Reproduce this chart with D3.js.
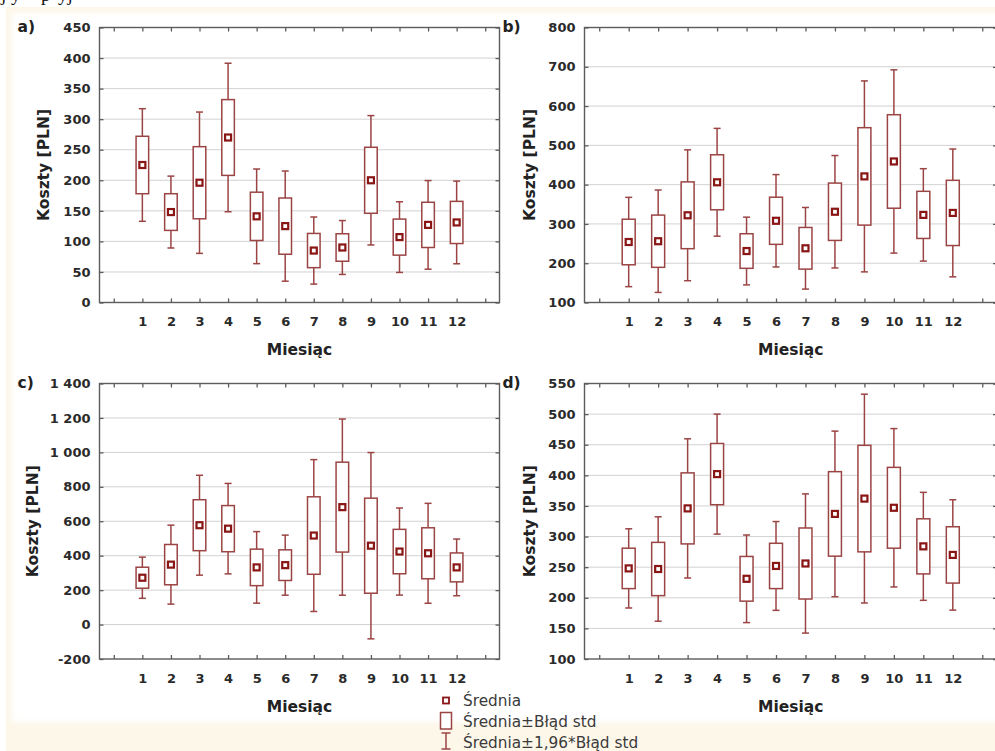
<!DOCTYPE html>
<html>
<head>
<meta charset="utf-8">
<script src="https://cdn.jsdelivr.net/npm/d3@7"></script>
<style>
  html, body { margin: 0; padding: 0; background: #ffffff; }
  svg { display: block; }
</style>
</head>
<body>
<svg id="chart" width="995" height="751"></svg>
<script>
// Months on the x axis
const months = ["1", "2", "3", "4", "5", "6", "7", "8", "9", "10", "11", "12"];

// a) monthly mean cost and its standard error
const meanA = [225, 148, 196, 270, 141, 125, 85, 90, 200, 107, 127, 131];
const seA   = [47, 30, 59, 62, 39.5, 46, 28, 22.5, 54, 29.5, 37, 34.5];

// b)
const meanB = [254, 256, 322, 406, 231, 308, 238, 331, 421, 459, 323, 328];
const seB   = [58, 66.5, 85, 70, 44, 60, 53, 73, 124, 119, 60, 83];

// c)
const meanC = [272, 348, 577, 557, 332, 345, 517, 682, 458, 424, 414, 332];
const seC   = [61, 117, 148, 134, 106, 89, 225, 261, 276, 129, 148, 84];

// d)
const meanD = [248, 247, 346, 402, 231, 252, 256, 337, 362, 347, 284, 270];
const seD   = [33, 43.5, 58, 50, 36.5, 37, 58, 69, 87, 66, 45, 46];

// y tick values per panel
const ticksA = [0, 50, 100, 150, 200, 250, 300, 350, 400, 450];
const ticksB = [100, 200, 300, 400, 500, 600, 700, 800];
const ticksC = [-200, 0, 200, 400, 600, 800, 1000, 1200, 1400];
const ticksD = [100, 150, 200, 250, 300, 350, 400, 450, 500, 550];

const panelLetters = ["a)", "b)", "c)", "d)"];
const yTitle = "Koszty [PLN]";
const xTitle = "Miesiąc";
const legendLabels = ["Średnia", "Średnia±Błąd std", "Średnia±1,96*Błąd std"];
const whiskerFactor = 1.96;

// Polish number format: space as thousands separator, hyphen minus
const plFormat = d3.formatLocale({
  decimal: ",", thousands: " ", grouping: [3], currency: ["", " zł"], minus: "-"
}).format(",d");

const panels = [
  { letter: panelLetters[0], mean: meanA, se: seA, ticks: ticksA, domain: [0, 450],
    left: 99.5, right: 499.5, top: 27.5, bottom: 302.5, titleX: 43.5 },
  { letter: panelLetters[1], mean: meanB, se: seB, ticks: ticksB, domain: [100, 800],
    left: 584.5, right: 997, top: 27.5, bottom: 302.5, titleX: 529 },
  { letter: panelLetters[2], mean: meanC, se: seC, ticks: ticksC, domain: [-200, 1400],
    left: 99.5, right: 499.5, top: 383.5, bottom: 659, titleX: 32.5 },
  { letter: panelLetters[3], mean: meanD, se: seD, ticks: ticksD, domain: [100, 550],
    left: 584.5, right: 997, top: 383.5, bottom: 659, titleX: 529 }
];

const BOLD = "'DejaVu Sans', Verdana, sans-serif";
const boxColor = "#9b4444";
const meanColor = "#8a1515";
const frameColor = "#5c5c5c";
const labelColor = "#2a2a2a";

const svg = d3.select("#chart");
const defs = svg.append("defs");
defs.append("filter").attr("id", "soft")
  .attr("x", "-5%").attr("y", "-5%").attr("width", "110%").attr("height", "110%")
  .append("feGaussianBlur").attr("stdDeviation", 2.5);
defs.append("clipPath").attr("id", "topStrip")
  .append("rect").attr("x", 0).attr("y", 0).attr("width", 995).attr("height", 7);

// page: cream frame with a white sheet inside
svg.append("rect").attr("x", 6).attr("y", 7).attr("width", 989).attr("height", 744)
  .attr("fill", "#fdf7ea");
svg.append("rect").attr("x", 12).attr("y", 13).attr("width", 1000).attr("height", 709)
  .attr("fill", "#ffffff").attr("filter", "url(#soft)");

// tail of the preceding text line
svg.append("g").attr("clip-path", "url(#topStrip)")
  .append("text")
  .attr("x", "1 11 29 41 58").attr("y", 1)
  .attr("font-family", "'Liberation Serif', 'Times New Roman', serif")
  .attr("font-size", 19).attr("fill", "#111")
  .text("jy pyj");

function drawPanel(p) {
  const x = d3.scaleLinear().domain([-0.5, 13.5]).range([p.left, p.right]);
  const y = d3.scaleLinear().domain(p.domain).range([p.bottom, p.top]);
  const step = x(1) - x(0);
  const g = svg.append("g");

  // horizontal gridlines
  g.append("g").selectAll("line")
    .data(p.ticks.filter(t => t > p.domain[0] && t < p.domain[1]))
    .join("line")
    .attr("x1", p.left).attr("x2", p.right)
    .attr("y1", d => y(d)).attr("y2", d => y(d))
    .attr("stroke", "#d2d2d2").attr("stroke-width", 1);

  // frame ticks on all four sides, pointing inward
  const posTicks = d3.range(0, 14);
  const axes = [
    g.append("g").attr("transform", `translate(${p.left},0)`)
      .call(d3.axisLeft(y).tickValues(p.ticks).tickSize(-4).tickPadding(9).tickFormat(plFormat)),
    g.append("g").attr("transform", `translate(${p.right},0)`)
      .call(d3.axisRight(y).tickValues(p.ticks).tickSize(-4).tickFormat("")),
    g.append("g").attr("transform", `translate(0,${p.top})`)
      .call(d3.axisTop(x).tickValues(posTicks).tickSize(-4).tickFormat("")),
    g.append("g").attr("transform", `translate(0,${p.bottom})`)
      .call(d3.axisBottom(x).tickValues(posTicks).tickSize(-4).tickFormat("")),
    g.append("g").attr("transform", `translate(0,${p.bottom})`)
      .call(d3.axisBottom(x).tickValues(months.map(Number)).tickSize(0).tickPadding(14.5)
        .tickFormat((d, i) => months[i]))
  ];
  axes.forEach(a => {
    a.select(".domain").remove();
    a.selectAll(".tick line").attr("stroke", frameColor).attr("stroke-width", 1.3);
    a.selectAll(".tick text")
      .attr("font-family", BOLD).attr("font-weight", "bold")
      .attr("font-size", 13).attr("fill", labelColor);
  });

  // plot frame
  g.append("rect")
    .attr("x", p.left).attr("y", p.top)
    .attr("width", p.right - p.left).attr("height", p.bottom - p.top)
    .attr("fill", "none").attr("stroke", frameColor).attr("stroke-width", 1.4);

  // mean ± SE boxes and mean ± 1.96·SE whiskers
  const items = months.map((m, i) => ({
    pos: i + 1, mean: p.mean[i], se: p.se[i]
  }));
  const boxW = step * 0.44;
  const capW = 7;
  const bx = g.append("g").selectAll("g").data(items).join("g");

  bx.append("line")
    .attr("x1", d => x(d.pos)).attr("x2", d => x(d.pos))
    .attr("y1", d => y(d.mean + whiskerFactor * d.se)).attr("y2", d => y(d.mean + d.se))
    .attr("stroke", boxColor).attr("stroke-width", 1.5);
  bx.append("line")
    .attr("x1", d => x(d.pos)).attr("x2", d => x(d.pos))
    .attr("y1", d => y(d.mean - d.se)).attr("y2", d => y(d.mean - whiskerFactor * d.se))
    .attr("stroke", boxColor).attr("stroke-width", 1.5);
  bx.append("line")
    .attr("x1", d => x(d.pos) - capW / 2).attr("x2", d => x(d.pos) + capW / 2)
    .attr("y1", d => y(d.mean + whiskerFactor * d.se)).attr("y2", d => y(d.mean + whiskerFactor * d.se))
    .attr("stroke", boxColor).attr("stroke-width", 1.5);
  bx.append("line")
    .attr("x1", d => x(d.pos) - capW / 2).attr("x2", d => x(d.pos) + capW / 2)
    .attr("y1", d => y(d.mean - whiskerFactor * d.se)).attr("y2", d => y(d.mean - whiskerFactor * d.se))
    .attr("stroke", boxColor).attr("stroke-width", 1.5);
  bx.append("rect")
    .attr("x", d => x(d.pos) - boxW / 2).attr("width", boxW)
    .attr("y", d => y(d.mean + d.se)).attr("height", d => y(d.mean - d.se) - y(d.mean + d.se))
    .attr("fill", "#ffffff").attr("stroke", boxColor).attr("stroke-width", 1.5);
  bx.append("rect")
    .attr("x", d => x(d.pos) - 3).attr("y", d => y(d.mean) - 3)
    .attr("width", 6).attr("height", 6)
    .attr("fill", "#ffffff").attr("stroke", meanColor).attr("stroke-width", 2.2);

  // titles
  g.append("text")
    .attr("transform", `translate(${p.titleX},${(p.top + p.bottom) / 2}) rotate(-90)`)
    .attr("text-anchor", "middle").attr("dy", "0.36em")
    .attr("font-family", BOLD).attr("font-weight", "bold").attr("font-size", 15.5)
    .attr("fill", "#222").text(yTitle);
  g.append("text")
    .attr("x", (p.left + Math.min(p.right, 997)) / 2).attr("y", p.bottom + 52.5)
    .attr("text-anchor", "middle")
    .attr("font-family", BOLD).attr("font-weight", "bold").attr("font-size", 15.5)
    .attr("fill", "#222").text(xTitle);
  g.append("text")
    .attr("x", p.left - 82).attr("y", p.top + 4)
    .attr("font-family", BOLD).attr("font-weight", "bold").attr("font-size", 15.5)
    .attr("fill", "#222").text(p.letter);
}

panels.forEach(drawPanel);

// legend
const lg = svg.append("g");
const lgX = 446;
lg.append("rect").attr("x", lgX - 3).attr("y", 697.5).attr("width", 6).attr("height", 6)
  .attr("fill", "#fff").attr("stroke", meanColor).attr("stroke-width", 1.8);
lg.append("rect").attr("x", lgX - 5.5).attr("y", 712.5).attr("width", 11).attr("height", 16.5)
  .attr("fill", "#fff").attr("stroke", boxColor).attr("stroke-width", 1.5);
lg.append("line").attr("x1", lgX).attr("x2", lgX).attr("y1", 733).attr("y2", 749)
  .attr("stroke", boxColor).attr("stroke-width", 1.5);
lg.append("line").attr("x1", lgX - 4.5).attr("x2", lgX + 4.5).attr("y1", 733).attr("y2", 733)
  .attr("stroke", boxColor).attr("stroke-width", 1.5);
lg.append("line").attr("x1", lgX - 4.5).attr("x2", lgX + 4.5).attr("y1", 749).attr("y2", 749)
  .attr("stroke", boxColor).attr("stroke-width", 1.5);
lg.selectAll("text").data(legendLabels).join("text")
  .attr("x", 463).attr("y", (d, i) => 706 + i * 21)
  .attr("font-family", "'DejaVu Sans', Verdana, sans-serif").attr("font-size", 15.3)
  .attr("fill", "#3a3a3a").text(d => d);
</script>
</body>
</html>
